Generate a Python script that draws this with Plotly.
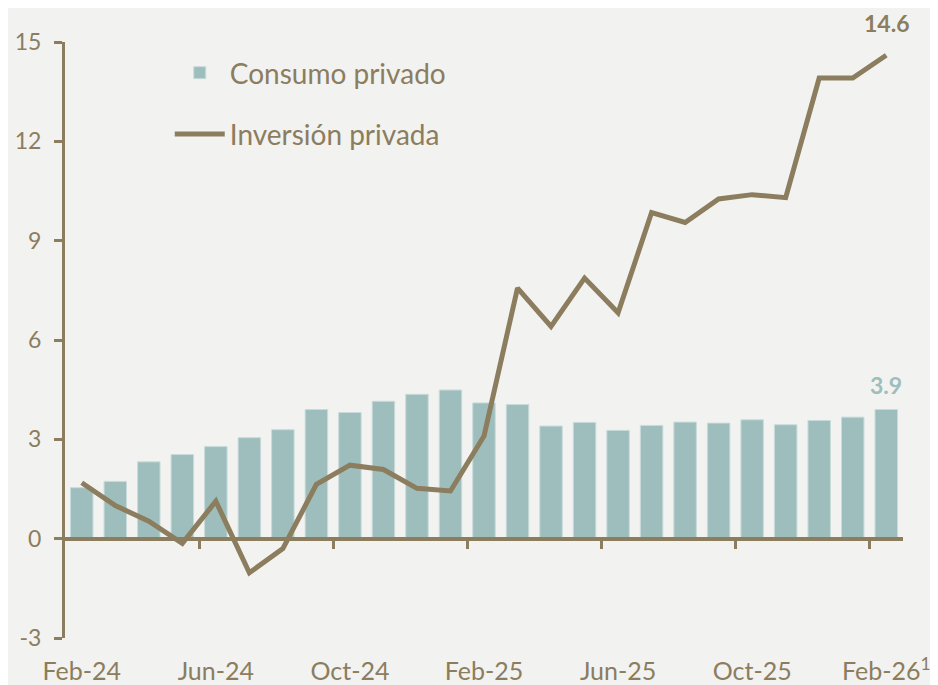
import plotly.graph_objects as go

months = ["Feb-24", "Mar-24", "Apr-24", "May-24", "Jun-24", "Jul-24", "Aug-24", "Sep-24",
          "Oct-24", "Nov-24", "Dec-24", "Jan-25", "Feb-25", "Mar-25", "Apr-25", "May-25",
          "Jun-25", "Jul-25", "Aug-25", "Sep-25", "Oct-25", "Nov-25", "Dec-25", "Jan-26", "Feb-26"]
tick_labels = ["Feb-24", "Jun-24", "Oct-24", "Feb-25", "Jun-25", "Oct-25", "Feb-26<sup>1</sup>"]
y_ticks = [-3, 0, 3, 6, 9, 12, 15]
y_tick_labels = ["-3", "0", "3", "6", "9", "12", "15"]

consumo = [1.54, 1.73, 2.32, 2.54, 2.78, 3.05, 3.29, 3.90, 3.81, 4.15, 4.36, 4.49, 4.10,
           4.05, 3.40, 3.51, 3.27, 3.42, 3.52, 3.49, 3.59, 3.44, 3.57, 3.67, 3.9]
inversion = [1.69, 1.00, 0.53, -0.14, 1.13, -1.03, -0.30, 1.64, 2.22, 2.09, 1.52, 1.44, 3.10,
             7.57, 6.41, 7.87, 6.82, 9.85, 9.55, 10.26, 10.39, 10.30, 13.91, 13.91, 14.6]

BROWN = "#8B7D5E"
TEAL = "#9DBEBD"
BG = "#F2F2F0"
FONT = "Lato"

idx = list(range(len(months)))
label_idx = [i for i, m in enumerate(months) if i % 4 == 0]
boundary_ticks = [i - 0.5 for i in label_idx[1:]]

fig = go.Figure()
fig.add_trace(go.Bar(
    x=idx, y=consumo, name="Consumo privado",
    marker=dict(color=TEAL, line=dict(color="#C8DBDA", width=1)),
    width=0.67, legendgroup="a", xaxis="x", yaxis="y",
))
fig.add_trace(go.Scatter(
    x=idx, y=inversion, name="Inversión privada", mode="lines",
    line=dict(color=BROWN, width=5), legendgroup="b", xaxis="x2", yaxis="y",
))

fig.add_annotation(x=idx[-1], y=inversion[-1], xref="x2", yref="y",
                   text=f"<b>{inversion[-1]:.1f}</b>", showarrow=False, yshift=32,
                   font=dict(family=FONT, size=23, color=BROWN))
fig.add_annotation(x=idx[-1], y=consumo[-1], xref="x", yref="y",
                   text=f"<b>{consumo[-1]:.1f}</b>", showarrow=False, yshift=25,
                   font=dict(family=FONT, size=23, color=TEAL))

fig.update_layout(
    width=930, height=677,
    paper_bgcolor=BG, plot_bgcolor=BG,
    margin=dict(l=57, r=35, t=34, b=47),
    font=dict(family=FONT, size=21, color=BROWN),
    showlegend=True,
    legend=dict(x=0.125, y=0.99, xanchor="left", yanchor="top",
                bgcolor="rgba(0,0,0,0)", traceorder="grouped", tracegroupgap=22,
                font=dict(family=FONT, size=28, color=BROWN), itemwidth=50),
    xaxis=dict(range=[-0.5, 24.5], tickmode="array", tickvals=label_idx, ticktext=tick_labels,
               showline=False, ticks="", showgrid=False, zeroline=False, automargin=False,
               tickfont=dict(family=FONT, size=25, color=BROWN), ticklabelstandoff=16),
    xaxis2=dict(range=[-0.5, 24.5], overlaying="x", anchor="free", position=1/6,
                side="bottom", showline=True, linecolor=BROWN, linewidth=4,
                tickmode="array", tickvals=boundary_ticks, ticks="outside", ticklen=8,
                tickwidth=3, tickcolor=BROWN, showticklabels=False, showgrid=False,
                zeroline=False, automargin=False),
    yaxis=dict(range=[-3, 15], tickmode="array", tickvals=y_ticks, ticktext=y_tick_labels,
               showline=True, linecolor=BROWN, linewidth=3,
               ticks="outside", ticklen=8, tickwidth=3, tickcolor=BROWN, showgrid=False,
               zeroline=False, automargin=False,
               tickfont=dict(family=FONT, size=23, color=BROWN), ticklabelstandoff=8),
    bargap=0.33,
)

fig.write_html("out.html")
